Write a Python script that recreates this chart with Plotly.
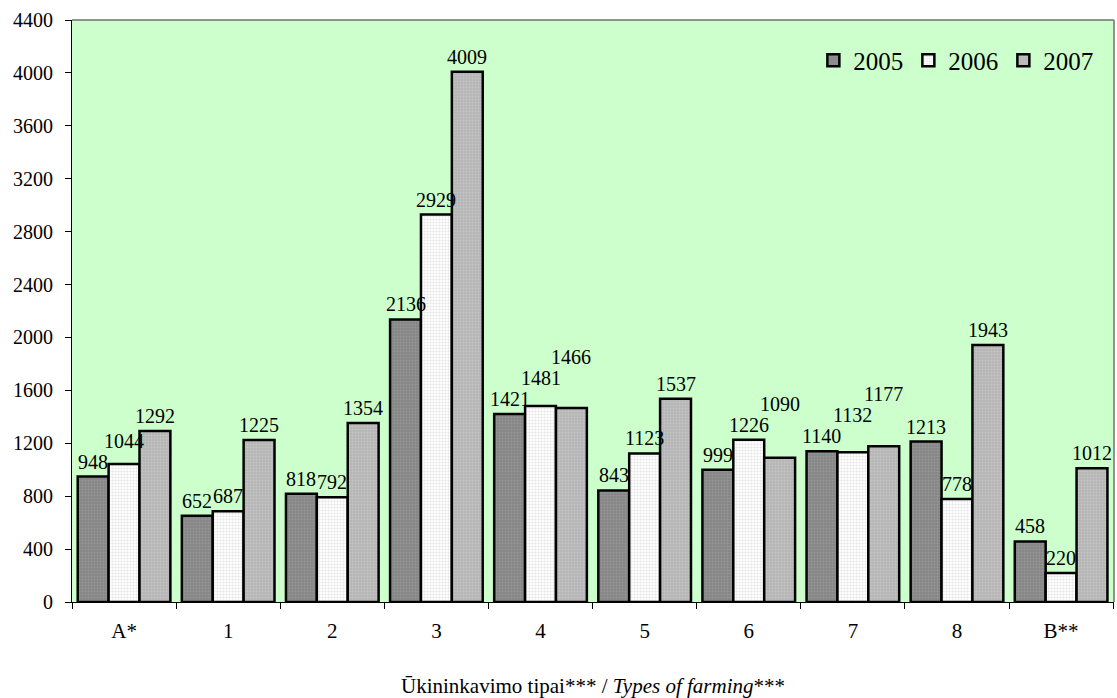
import plotly.graph_objects as go

categories = ["A*", "1", "2", "3", "4", "5", "6", "7", "8", "B**"]
v2005 = [948, 652, 818, 2136, 1421, 843, 999, 1140, 1213, 458]
v2006 = [1044, 687, 792, 2929, 1481, 1123, 1226, 1132, 778, 220]
v2007 = [1292, 1225, 1354, 4009, 1466, 1537, 1090, 1177, 1943, 1012]
series_names = ["2005", "2006", "2007"]
y_ticks = list(range(0, 4401, 400))

FONT = "Liberation Serif"
W, H = 1117, 698
M = dict(l=72, r=3, t=20, b=96)
BARGAP = 0.11
YMAX = 4400
LABEL_SIZE = 20

styles = [
    dict(bg="#858585", fg="#a8a8a8"),
    dict(bg="#ffffff", fg="#c8c8c8"),
    dict(bg="#b4b4b4", fg="#d6d6d6"),
]
all_series = [v2005, v2006, v2007]

fig = go.Figure()
for name, vals, st in zip(series_names, all_series, styles):
    fig.add_trace(go.Bar(
        name=name, x=categories, y=vals,
        marker=dict(color=st["bg"], line=dict(color="black", width=2.5),
                    pattern=dict(shape=".", fgcolor=st["fg"], bgcolor=st["bg"],
                                 size=3, solidity=0.4, fillmode="overlay")),
    ))

# value labels: placed above each bar, stepped up when they would collide
n = len(all_series)
bar_w = (1 - BARGAP) / n                      # in category units
plot_w = W - M["l"] - M["r"]
plot_h = H - M["t"] - M["b"]
cat_px = plot_w / len(categories)
units_per_px = YMAX / plot_h
char_w = 0.5 * LABEL_SIZE / cat_px            # digit width in category units
line_h = 1.05 * LABEL_SIZE * units_per_px     # label height in data units

annotations = []
for i, cat in enumerate(categories):
    prev = None
    for j, vals in enumerate(all_series):
        v = vals[i]
        txt = str(v)
        xpos = i + (j - (n - 1) / 2) * bar_w
        ylab = v
        if prev is not None:
            p_y, p_len = prev
            overlap_x = (len(txt) + p_len) / 2 * char_w > bar_w * 1.02
            if overlap_x and abs(ylab - p_y) < line_h:
                ylab = max(ylab, p_y + line_h)
        prev = (ylab, len(txt))
        annotations.append(dict(
            x=xpos, y=ylab, xref="x", yref="y", text=txt, showarrow=False,
            yanchor="bottom", xanchor="center", yshift=2,
            font=dict(family=FONT, size=LABEL_SIZE, color="black"),
        ))

fig.update_layout(
    width=W, height=H,
    margin=M,
    paper_bgcolor="white", plot_bgcolor="#ccffcc",
    barmode="group", bargap=BARGAP, bargroupgap=0,
    font=dict(family=FONT, size=20, color="black"),
    showlegend=True,
    legend=dict(orientation="h", x=0.985, y=0.97, xanchor="right", yanchor="top",
                font=dict(family=FONT, size=25), bgcolor="rgba(0,0,0,0)",
                itemwidth=30, tracegroupgap=0, traceorder="normal"),
    xaxis=dict(
        showgrid=False, showline=True, linecolor="black", linewidth=1,
        ticks="outside", ticklen=6, tickcolor="black", tickson="boundaries",
        tickfont=dict(family=FONT, size=21), ticklabelstandoff=10,
        title=dict(text="Ūkininkavimo tipai*** / <i>Types of farming</i>***",
                   font=dict(family=FONT, size=21), standoff=38),
    ),
    yaxis=dict(
        range=[0, YMAX], tickvals=y_ticks, showgrid=False,
        showline=True, linecolor="black", linewidth=1,
        ticks="outside", ticklen=6, tickcolor="black", ticklabelstandoff=8,
        tickfont=dict(family=FONT, size=20), zeroline=False,
    ),
    annotations=annotations,
    shapes=[
        dict(type="line", xref="paper", yref="paper", x0=0, x1=1, y0=1, y1=1,
             line=dict(color="#707070", width=1.5)),
        dict(type="line", xref="paper", yref="paper", x0=1, x1=1, y0=0, y1=1,
             line=dict(color="#707070", width=1.5)),
    ],
)

fig.write_html("out.html", config={"displayModeBar": False},
               post_script="document.body.style.margin='0';document.body.style.overflow='hidden';")
